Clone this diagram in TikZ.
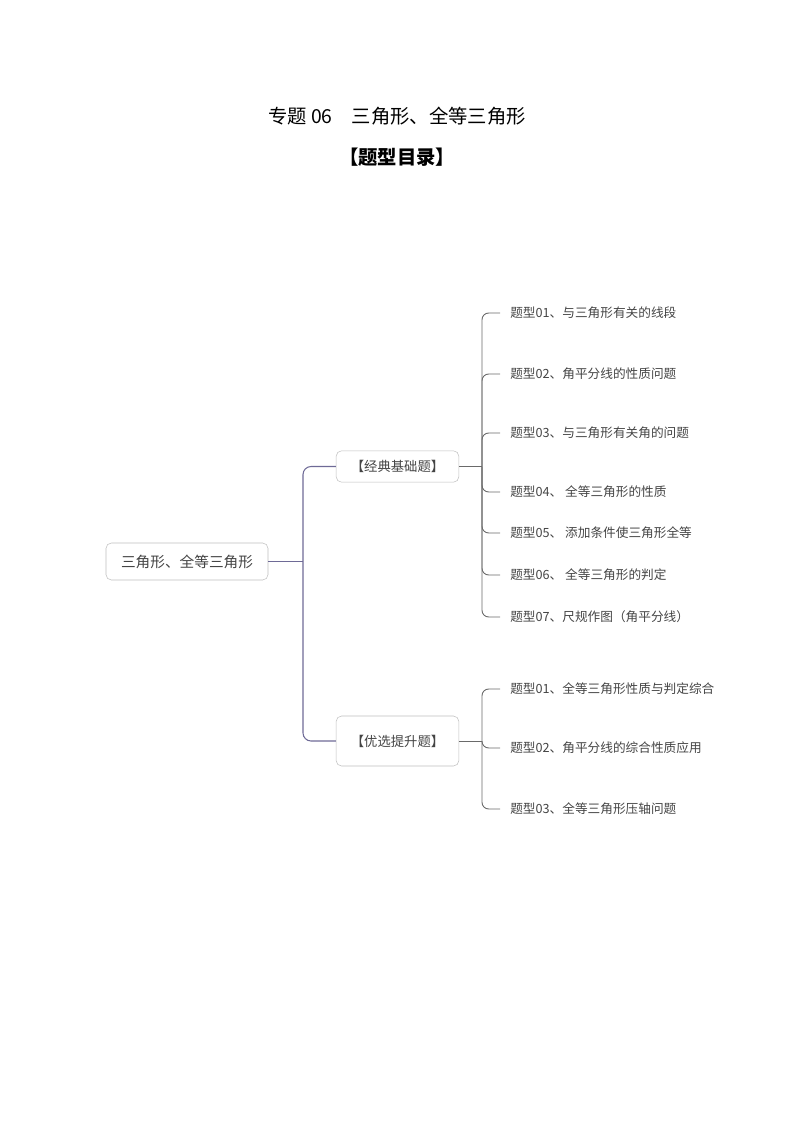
\documentclass[tikz,border=0pt]{standalone}
\usepackage{fontspec}
\setmainfont{Noto Sans CJK SC}
\usetikzlibrary{positioning}
\definecolor{linkblue}{HTML}{6E6A96}
\definecolor{leafgray}{HTML}{6A6A6A}
\definecolor{txtgray}{HTML}{444444}
\tikzset{
  topic/.style={draw=black!25,rounded corners=4pt,fill=white,text=txtgray,inner sep=0pt},
  leaf/.style={anchor=west,text=txtgray,font=\fontsize{9.5}{11}\selectfont,inner sep=0pt},
  rootlink/.style={draw=linkblue,line width=0.8pt,rounded corners=6pt},
  leaflink/.style={draw=leafgray,line width=0.7pt,rounded corners=5pt}
}
\begin{document}
\begin{tikzpicture}[x=0.75pt,y=-0.75pt]
	\useasboundingbox (0,0) rectangle (794,1123);
	\node (title) at (397,116) {\fontsize{14.5}{16}\selectfont 专题 06\quad 三角形、全等三角形};
	\node (toc) at (397,157) {\fontsize{14.5}{16}\selectfont\bfseries 【题型目录】};
	
	\node[topic,minimum width=121.5pt,minimum height=27.75pt,font=\fontsize{11}{13}\selectfont] (root) at (187,561.5) {三角形、全等三角形};
	\node[topic,minimum width=92pt,minimum height=23.5pt,font=\fontsize{10}{12}\selectfont] (b1) at (397.5,466.5) {【经典基础题】};
	\node[topic,minimum width=92pt,minimum height=37.5pt,font=\fontsize{10}{12}\selectfont,text depth=-10pt] (b2) at (397.5,741) {【优选提升题】};
	
	\coordinate (j) at (303,561.5);
	\path[rootlink] (root.east) -- (j);
	\path[rootlink] (b1.west) -- (303,466.5) -- (303,741) -- (b2.west);
	
	% leaves of the first branch
	\foreach \n/\y/\t in {1/313/题型01、与三角形有关的线段,
	                      2/374/题型02、角平分线的性质问题,
	                      3/433/题型03、与三角形有关角的问题,
	                      4/492/题型04、 全等三角形的性质,
	                      5/533/题型05、 添加条件使三角形全等,
	                      6/575/题型06、 全等三角形的判定,
	                      7/617/题型07、尺规作图（角平分线）}{
		\node[leaf] (a\n) at (510,\y) {\t};
		\path[leaflink] (482,466.5) |- (500,\y);
	}
	\path[leaflink] (b1.east) -- (482,466.5);
	
	% leaves of the second branch
	\foreach \n/\y/\t in {1/689/题型01、全等三角形性质与判定综合,
	                      2/748/题型02、角平分线的综合性质应用,
	                      3/809/题型03、全等三角形压轴问题}{
		\node[leaf] (c\n) at (510,\y) {\t};
		\path[leaflink] (482,741) |- (500,\y);
	}
	\path[leaflink] (b2.east) -- (482,741);
\end{tikzpicture}
\end{document}
